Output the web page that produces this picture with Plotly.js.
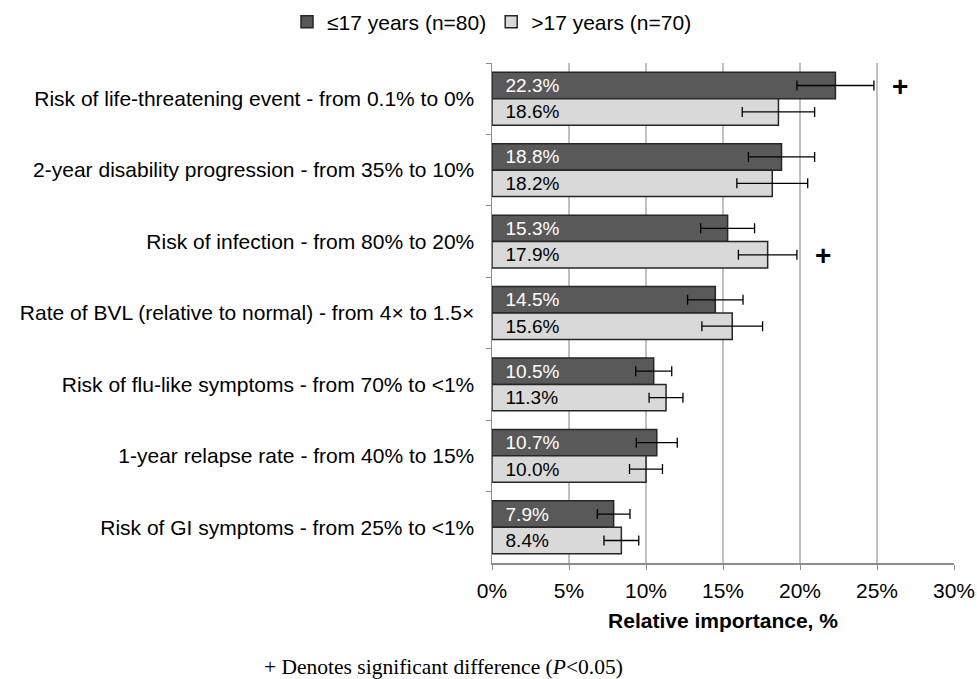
<!DOCTYPE html>
<html>
<head>
<meta charset="utf-8">
<script src="https://cdn.plot.ly/plotly-3.0.1.min.js"></script>
<style>html,body{margin:0;padding:0;background:#fff;}#chart{width:977px;height:679px;}</style>
</head>
<body>
<div id="chart"></div>
<script>
var categories = [
  "Risk of life-threatening event - from 0.1% to 0%",
  "2-year disability progression - from 35% to 10%",
  "Risk of infection - from 80% to 20%",
  "Rate of BVL (relative to normal) - from 4× to 1.5×",
  "Risk of flu-like symptoms - from 70% to <1%",
  "1-year relapse rate - from 40% to 15%",
  "Risk of GI symptoms - from 25% to <1%"
];
var seriesNames = ["≤17 years (n=80)", ">17 years (n=70)"];
var youngValues = [22.3, 18.8, 15.3, 14.5, 10.5, 10.7, 7.9];
var youngErrors = [2.5, 2.15, 1.75, 1.8, 1.17, 1.33, 1.06];
var oldValues = [18.6, 18.2, 17.9, 15.6, 11.3, 10.0, 8.4];
var oldErrors = [2.35, 2.3, 1.9, 1.97, 1.1, 1.07, 1.13];
// significance markers: [category index, series index (0 young, 1 old), x position]
var sigMarks = [[0, 0, 26.5], [2, 1, 21.5]];
var xTickVals = [0, 5, 10, 15, 20, 25, 30];
var xTickText = ["0%", "5%", "10%", "15%", "20%", "25%", "30%"];

var FONT = "Liberation Sans, Arial, sans-serif";
var FS = 21;
function labels(arr){ return arr.map(function(v){ return "\u00a0\u00a0" + v.toFixed(1) + "%"; }); }

var traces = [
  {
    type: "bar", orientation: "h", name: seriesNames[0],
    y: categories, x: youngValues,
    marker: {color: "#595959", line: {color: "#262626", width: 1.5}},
    text: labels(youngValues), textposition: "inside", insidetextanchor: "start",
    constraintext: "none", textfont: {color: "#ffffff", size: 19, family: FONT},
    error_x: {type: "data", array: youngErrors, visible: true, color: "#000", thickness: 1.3, width: 5},
    hoverinfo: "none"
  },
  {
    type: "bar", orientation: "h", name: seriesNames[1],
    y: categories, x: oldValues,
    marker: {color: "#d9d9d9", line: {color: "#262626", width: 1.5}},
    text: labels(oldValues), textposition: "inside", insidetextanchor: "start",
    constraintext: "none", textfont: {color: "#000000", size: 19, family: FONT},
    error_x: {type: "data", array: oldErrors, visible: true, color: "#000", thickness: 1.3, width: 5},
    hoverinfo: "none"
  }
];

var annotations = sigMarks.map(function(m){
  return {
    x: m[2], y: categories[m[0]], xref: "x", yref: "y",
    text: "<b>+</b>", showarrow: false,
    font: {size: 28, family: FONT, color: "#000"},
    yshift: m[1] === 0 ? 12 : -14
  };
});
annotations.push({
  xref: "paper", yref: "paper", x: -0.104, y: -0.208,
  xanchor: "center", yanchor: "middle", showarrow: false,
  text: "+ Denotes significant difference (<i>P</i>&lt;0.05)",
  font: {size: 21.5, family: "Liberation Serif, Times New Roman, serif", color: "#000"}
});

var layout = {
  width: 977, height: 679,
  margin: {l: 492, r: 23, t: 63, b: 116, autoexpand: false},
  paper_bgcolor: "#fff", plot_bgcolor: "#fff",
  barmode: "group", bargap: 0.26, bargroupgap: 0,
  font: {family: FONT, size: FS, color: "#000"},
  showlegend: true,
  legend: {
    orientation: "h", x: 0.0, xanchor: "center", y: 1.082, yanchor: "middle",
    font: {size: FS, family: FONT}, traceorder: "normal", itemwidth: 30
  },
  xaxis: {
    range: [0, 30], tickvals: xTickVals, ticktext: xTickText,
    showgrid: true, gridcolor: "#c0c0c0", gridwidth: 1.3,
    showline: true, linecolor: "#8c8c8c", linewidth: 1.5,
    ticks: "outside", ticklen: 5, tickcolor: "#8c8c8c",
    tickfont: {size: FS, family: FONT}, zeroline: false, ticklabelstandoff: 3,
    title: {text: "<b>Relative importance, %</b>", font: {size: FS, family: FONT}, standoff: 12}
  },
  yaxis: {
    type: "category", autorange: "reversed",
    showline: true, linecolor: "#8c8c8c", linewidth: 1.5,
    ticks: "outside", tickson: "boundaries", ticklen: 5, tickcolor: "#8c8c8c",
    tickfont: {size: FS, family: FONT}, ticklabelstandoff: 12,
    showgrid: false, zeroline: false
  },
  annotations: annotations
};

Plotly.newPlot("chart", traces, layout, {displayModeBar: false, staticPlot: true});
</script>
</body>
</html>
